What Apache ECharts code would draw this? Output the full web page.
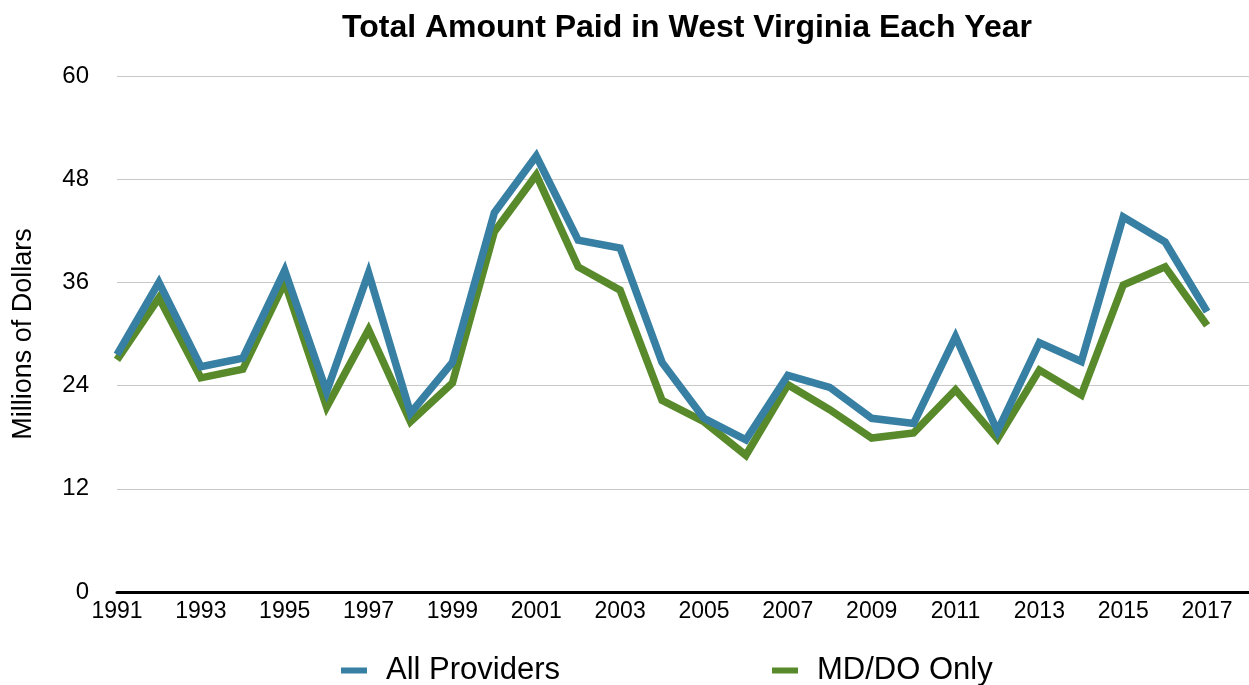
<!DOCTYPE html>
<html lang="en">
<head>
    <meta charset="UTF-8">
    <title>Total Amount Paid in West Virginia Each Year</title>
    <script src="https://cdn.jsdelivr.net/npm/echarts@6/dist/echarts.min.js"></script>
    <style>
        html, body {margin: 0; padding: 0; background: #fff;}
        #main {width: 1249px; height: 685px;}
    </style>
</head>
<body>
<div id="main"></div>
<script>
    var years = ['1991', '1992', '1993', '1994', '1995', '1996', '1997', '1998', '1999', '2000',
        '2001', '2002', '2003', '2004', '2005', '2006', '2007', '2008', '2009', '2010',
        '2011', '2012', '2013', '2014', '2015', '2016', '2017'];
    // millions of dollars
    var allProviders = [27.6, 36.0, 26.2, 27.2, 37.4, 23.3, 37.1, 20.8, 26.7, 44.1,
        50.7, 40.9, 40.0, 26.7, 20.2, 17.7, 25.2, 23.8, 20.2, 19.6,
        29.7, 18.7, 29.0, 26.8, 43.6, 40.7, 32.6];
    var mdDoOnly = [27.0, 34.2, 24.9, 25.9, 36.0, 21.5, 30.5, 19.8, 24.3, 41.9,
        48.5, 37.8, 35.1, 22.3, 19.8, 15.9, 24.1, 21.2, 17.9, 18.5,
        23.5, 17.8, 25.8, 22.9, 35.7, 37.8, 31.0];
    var yTicks = [0, 12, 24, 36, 48, 60];

    var font = 'Liberation Sans, Arial, Helvetica, sans-serif';
    var blue = '#377fa3';
    var green = '#588a2b';

    // one empty slot after 2017, the axis runs on a bit past the last point
    var axisCats = years.concat(['']);

    var myChart = echarts.init(document.getElementById('main'));
    myChart.setOption({
        animation: false,
        textStyle: {fontFamily: font},
        title: {
            text: 'Total Amount Paid in West Virginia Each Year',
            left: 337,
            top: 7,
            textStyle: {fontSize: 32, fontWeight: 'bold', color: '#000', fontFamily: font}
        },
        legend: {
            left: 336,
            top: 650,
            itemGap: 212,
            itemWidth: 26,
            itemHeight: 6,
            icon: 'rect',
            textStyle: {fontSize: 31, color: '#000', fontFamily: font, padding: [0, 0, 0, 14]},
            data: ['All Providers', 'MD/DO Only']
        },
        grid: {left: 117, right: 0, top: 76, bottom: 93},
        xAxis: {
            type: 'category',
            data: axisCats,
            boundaryGap: false,
            axisLine: {lineStyle: {color: '#000', width: 3}},
            axisTick: {show: false},
            axisLabel: {interval: 1, fontSize: 23, color: '#000', margin: 8, fontFamily: font},
            splitLine: {show: false}
        },
        yAxis: {
            type: 'value',
            min: yTicks[0],
            max: yTicks[yTicks.length - 1],
            interval: 12,
            name: 'Millions of Dollars',
            nameLocation: 'middle',
            nameGap: 80,
            nameTextStyle: {fontSize: 27, color: '#000', fontFamily: font},
            axisLine: {show: false},
            axisTick: {show: false},
            axisLabel: {fontSize: 24, color: '#000', margin: 28, fontFamily: font},
            splitLine: {lineStyle: {color: '#c8c8c8', width: 1}}
        },
        series: [{
            name: 'All Providers',
            type: 'line',
            data: allProviders,
            symbol: 'none',
            z: 3,
            color: blue,
            lineStyle: {color: blue, width: 7.5, join: 'miter'}
        }, {
            name: 'MD/DO Only',
            type: 'line',
            data: mdDoOnly,
            symbol: 'none',
            z: 2,
            color: green,
            lineStyle: {color: green, width: 7.5, join: 'miter'}
        }]
    });
</script>
</body>
</html>
